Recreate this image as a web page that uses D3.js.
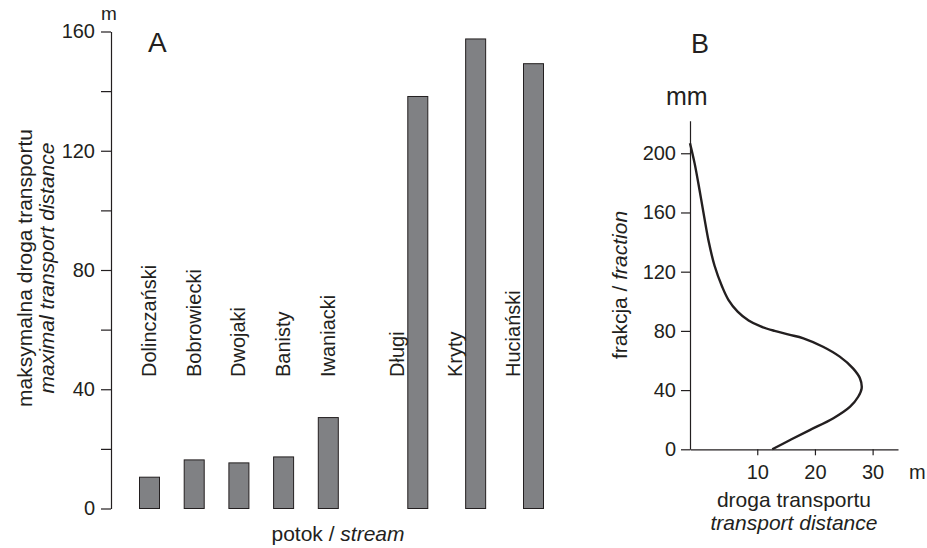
<!DOCTYPE html>
<html><head><meta charset="utf-8">
<script src="https://cdn.jsdelivr.net/npm/d3@7"></script>
<style>
html,body{margin:0;padding:0;background:#fff;}
svg{display:block;font-family:"Liberation Sans",Arial,sans-serif;}
</style></head>
<body><svg id="chart" width="927" height="548"></svg>
<script>
// Panel A data
const streams = ["Dolinczański","Bobrowiecki","Dwojaki","Banisty","Iwaniacki","Długi","Kryty","Huciański"];
const maxDistance = [10.5, 16.3, 15.3, 17.3, 30.5, 138.2, 157.5, 149.2];
const streamGroup = [0,0,0,0,0,1,1,1];
const yTicksA = [0,20,40,60,80,100,120,140,160];
const yLabelsA = [0,40,80,120,160];

// Panel B data (curve: transport distance [m] vs fraction [mm])
const distance = [12.6, 15.7, 19.1, 23.2, 26.1, 27.5, 28.1, 27.8, 26.6, 24.3, 21.4, 18.0, 15.5, 13.0, 10.6, 8.5, 6.6, 5.0, 3.9, 2.6, 1.6, 0.8, 0.0, -0.85, -1.66];
const fraction = [0, 6.3, 13, 21, 28.8, 35.5, 41.2, 48, 54.7, 62.6, 69.3, 75, 77.5, 80, 83, 87, 93, 101, 110, 124, 140, 157, 175, 193, 206.8];
const xTicksB = [10,20,30];
const yTicksB = [0,40,80,120,160,200];

const ink = "#231f20";
const svg = d3.select("#chart");

// ---------- Panel A ----------
const yA = d3.scaleLinear().domain([0,160]).range([508.5,31.5]);
const xGroups = [
  d3.scalePoint().domain(streams.filter((d,i)=>streamGroup[i]===0)).range([149.5,328.3]),
  d3.scalePoint().domain(streams.filter((d,i)=>streamGroup[i]===1)).range([417.8,533.5])
];
const xA = (d,i) => xGroups[streamGroup[i]](d);
const barW = 20;

const axA = svg.append("g").attr("transform","translate(111,0)")
  .call(d3.axisLeft(yA).tickValues(yTicksA).tickSize(10).tickSizeOuter(0).tickPadding(6)
    .tickFormat(d => yLabelsA.includes(d) ? d : ""));
axA.selectAll("path,line").attr("stroke",ink).attr("stroke-width",1.2);
axA.selectAll("text").attr("font-size",20).attr("fill",ink).attr("font-family","Liberation Sans, Arial, sans-serif");

svg.append("text").attr("x",101).attr("y",20).attr("font-size",19).attr("fill",ink).text("m");
svg.append("text").attr("x",148).attr("y",52).attr("font-size",28).attr("fill",ink).text("A");

svg.append("g").selectAll("rect").data(streams).join("rect")
  .attr("x",(d,i)=>xA(d,i)-barW/2)
  .attr("y",(d,i)=>yA(maxDistance[i]))
  .attr("width",barW)
  .attr("height",(d,i)=>yA(0)-yA(maxDistance[i]))
  .attr("fill","#808184").attr("stroke",ink).attr("stroke-width",1);

svg.append("g").selectAll("text").data(streams).join("text")
  .attr("transform",(d,i)=>{
    const x = xA(d,i) + (streamGroup[i]===0 ? 6.5 : -14);
    return `translate(${x},377) rotate(-90)`;
  })
  .attr("font-size",20).attr("fill",ink).text(d=>d);

const ytA = svg.append("text").attr("transform","translate(0,268) rotate(-90)")
  .attr("text-anchor","middle").attr("font-size",21).attr("fill",ink);
ytA.append("tspan").attr("x",0).attr("y",32).text("maksymalna droga transportu");
ytA.append("tspan").attr("x",0).attr("y",54).attr("font-style","italic").text("maximal transport distance");

const xtA = svg.append("text").attr("x",338).attr("y",541).attr("text-anchor","middle")
  .attr("font-size",21).attr("fill",ink);
xtA.append("tspan").text("potok / ");
xtA.append("tspan").attr("font-style","italic").text("stream");

// ---------- Panel B ----------
const xB = d3.scaleLinear().domain([-1.66,34.4]).range([690,898]);
const yB = d3.scaleLinear().domain([0,222]).range([449.3,120.7]);

const axBx = svg.append("g").attr("transform",`translate(0,${yB(0)})`)
  .call(d3.axisBottom(xB).tickValues(xTicksB).tickSize(6).tickSizeOuter(0).tickPadding(9.5));
axBx.selectAll("path,line").attr("stroke",ink).attr("stroke-width",1.2);
axBx.selectAll("text").attr("font-size",20).attr("fill",ink).attr("font-family","Liberation Sans, Arial, sans-serif");

const axBy = svg.append("g").attr("transform",`translate(${xB(-1.66)},0)`)
  .call(d3.axisLeft(yB).tickValues(yTicksB).tickSize(9).tickSizeOuter(0).tickPadding(5));
axBy.selectAll("path,line").attr("stroke",ink).attr("stroke-width",1.2);
axBy.selectAll("text").attr("font-size",20).attr("fill",ink).attr("font-family","Liberation Sans, Arial, sans-serif");

svg.append("path")
  .datum(distance.map((d,i)=>[d,fraction[i]]))
  .attr("fill","none").attr("stroke",ink).attr("stroke-width",2.4).attr("stroke-linejoin","round")
  .attr("d", d3.line().x(d=>xB(d[0])).y(d=>yB(d[1])).curve(d3.curveCatmullRom.alpha(0.5)));

svg.append("text").attr("x",909).attr("y",479).attr("font-size",20).attr("fill",ink).text("m");
svg.append("text").attr("x",666).attr("y",105).attr("font-size",25).attr("fill",ink).text("mm");
svg.append("text").attr("x",691).attr("y",53).attr("font-size",27).attr("fill",ink).text("B");

svg.append("text").attr("x",794).attr("y",507).attr("text-anchor","middle").attr("font-size",21).attr("fill",ink).text("droga transportu");
svg.append("text").attr("x",794).attr("y",530).attr("text-anchor","middle").attr("font-size",21).attr("font-style","italic").attr("fill",ink).text("transport distance");

const ytB = svg.append("text").attr("transform","translate(627,285) rotate(-90)")
  .attr("text-anchor","middle").attr("font-size",21).attr("fill",ink);
ytB.append("tspan").text("frakcja / ");
ytB.append("tspan").attr("font-style","italic").text("fraction");
</script></body></html>
